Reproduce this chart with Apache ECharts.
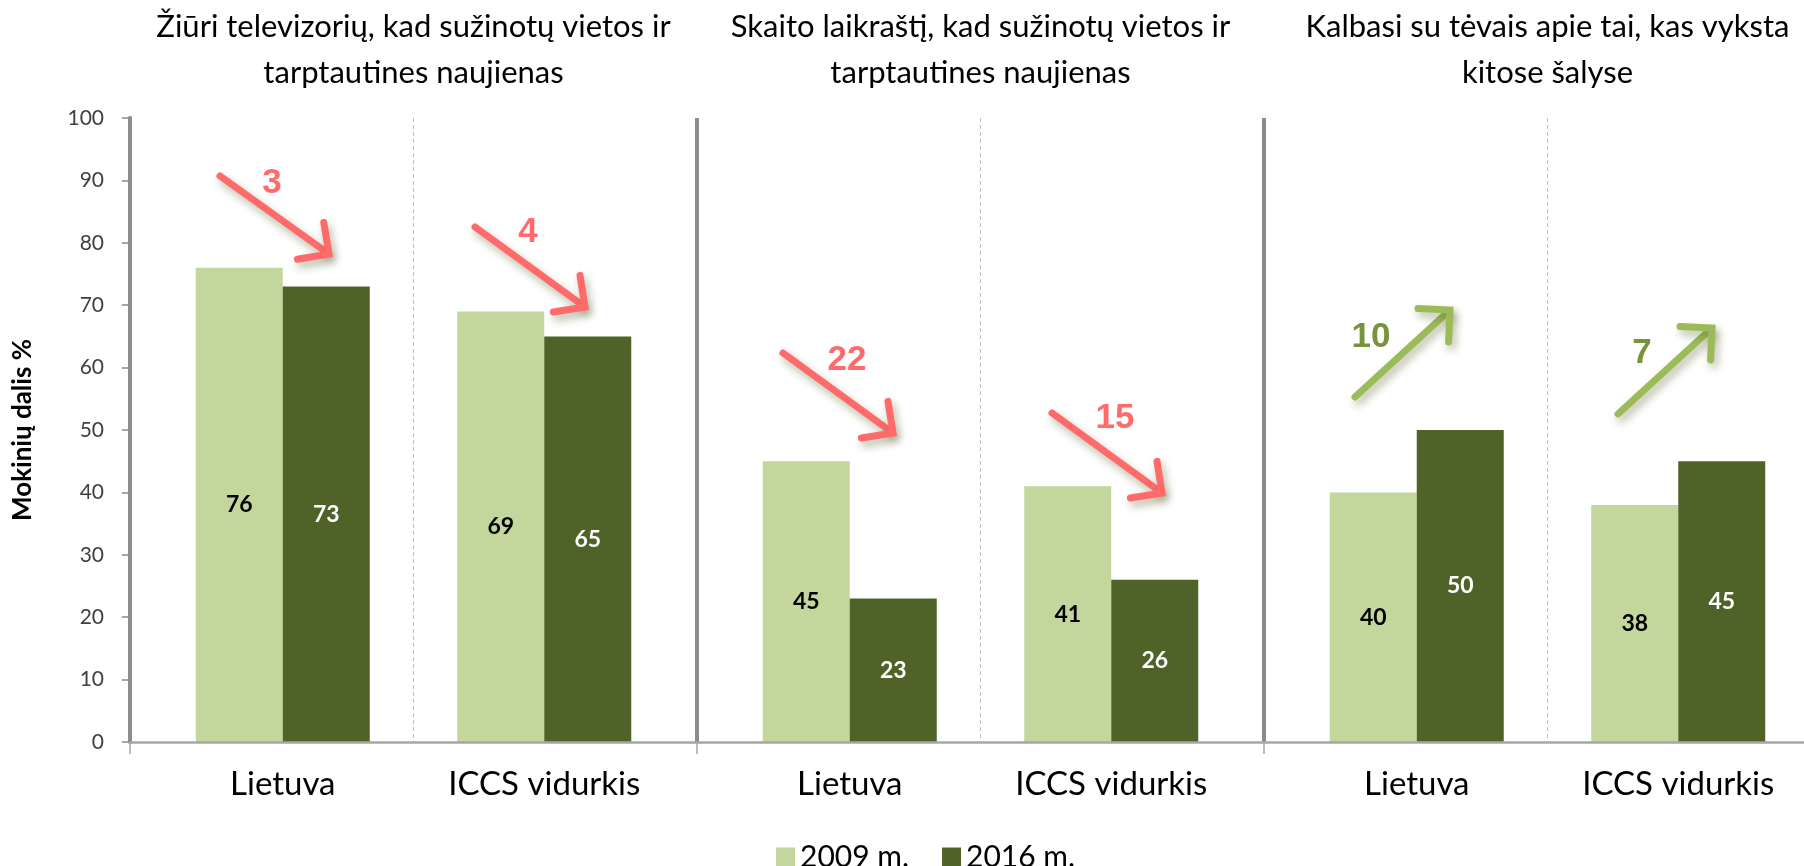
<!DOCTYPE html>
<html>
<head>
<meta charset="utf-8">
<script src="https://cdn.jsdelivr.net/npm/echarts@6/dist/echarts.min.js"></script>
<style>
  html, body { margin: 0; padding: 0; background: #fff; }
  #chart { width: 1804px; height: 866px; }
</style>
</head>
<body>
<div id="chart"></div>
<script>
// duomenys
const groupTitles = [
  'Žiūri televizorių, kad sužinotų vietos ir\ntarptautines naujienas',
  'Skaito laikraštį, kad sužinotų vietos ir\ntarptautines naujienas',
  'Kalbasi su tėvais apie tai, kas vyksta\nkitose šalyse'
];
const categories = ['Lietuva', 'ICCS vidurkis'];
const seriesNames = ['2009 m.', '2016 m.'];
const values2009 = [[76, 69], [45, 41], [40, 38]];
const values2016 = [[73, 65], [23, 26], [50, 45]];
const yMin = 0, yMax = 100, yStep = 10;

const colors = ['#C3D69B', '#4F6228'];
const font = 'Lato, "Open Sans", sans-serif';

// išdėstymas (px); trečia grupė nukerpama dešiniame krašte
const plotLeft = 130, plotTop = 118, plotHeight = 624;
const groupW = 567, inset = 22;

// rodyklių vietos: pradžia, smaigalys, skaičiaus centras
const arrowLayout = [
  [{ x0: 220, y0: 176, x1: 329, y1: 254, tx: 272, ty: 183 }, { x0: 475, y0: 227, x1: 585, y1: 307, tx: 528, ty: 232 }],
  [{ x0: 783, y0: 353, x1: 893, y1: 433, tx: 847, ty: 360 }, { x0: 1052, y0: 413, x1: 1162, y1: 493, tx: 1115, ty: 418 }],
  [{ x0: 1355, y0: 397, x1: 1450, y1: 310, tx: 1371, ty: 337 }, { x0: 1618, y0: 414, x1: 1712, y1: 328, tx: 1642, ty: 353 }]
];

function makeArrow(a, label, up) {
  const color = up ? '#9BBB59' : '#FF6B6B';
  const textColor = up ? '#77933C' : '#FF6B6B';
  const ang = Math.atan2(a.y1 - a.y0, a.x1 - a.x0);
  const len = 32, spread = Math.PI * 0.25;
  const p1 = [a.x1 - len * Math.cos(ang - spread), a.y1 - len * Math.sin(ang - spread)];
  const p2 = [a.x1 - len * Math.cos(ang + spread), a.y1 - len * Math.sin(ang + spread)];
  const shadow = { shadowBlur: 8, shadowColor: 'rgba(70,80,20,0.4)', shadowOffsetX: 3, shadowOffsetY: 5 };
  return [
    {
      type: 'line', z: 10,
      shape: { x1: a.x0, y1: a.y0, x2: a.x1 - 3 * Math.cos(ang), y2: a.y1 - 3 * Math.sin(ang) },
      style: Object.assign({ stroke: color, lineWidth: 7, lineCap: 'round' }, shadow)
    },
    {
      type: 'polyline', z: 10,
      shape: { points: [p1, [a.x1, a.y1], p2] },
      style: Object.assign({ stroke: color, fill: 'none', lineWidth: 7, lineCap: 'round', lineJoin: 'miter' }, shadow)
    },
    {
      type: 'text', z: 11, x: a.tx, y: a.ty,
      style: {
        text: label, fill: textColor, font: 'bold 35px "Liberation Sans", Arial, sans-serif',
        align: 'center', verticalAlign: 'middle'
      }
    }
  ];
}

const chart = echarts.init(document.getElementById('chart'));

const grids = [{ left: plotLeft, top: plotTop, width: groupW * 3, height: plotHeight, outerBoundsMode: 'none' }];
const xAxes = [
  {
    // grupių ribos, storos skiriamosios linijos
    gridIndex: 0, type: 'category', position: 'bottom', data: groupTitles, z: 3,
    axisLine: { lineStyle: { color: '#A6A6A6', width: 2.5 } },
    axisTick: { show: true, length: 12, interval: 0, lineStyle: { color: '#A6A6A6', width: 1.5 } },
    axisLabel: { show: false },
    splitLine: { show: true, interval: 0, lineStyle: { color: '#8C8C8C', width: 4 } }
  },
  {
    // grupių pavadinimai viršuje
    gridIndex: 0, type: 'category', position: 'top', data: groupTitles,
    axisLine: { show: false }, axisTick: { show: false },
    axisLabel: { interval: 0, margin: 22, color: '#000', fontFamily: font, fontSize: 31, lineHeight: 46 }
  },
  {
    // punktyrinės linijos tarp kategorijų
    gridIndex: 0, type: 'category', position: 'bottom', z: 1,
    data: groupTitles.flatMap(t => categories.map(c => t + c)),
    axisLine: { show: false }, axisTick: { show: false }, axisLabel: { show: false },
    splitLine: { show: true, interval: 0, lineStyle: { color: '#BFBFBF', width: 1, type: [4, 3] } }
  }
];
const yAxes = [
  {
    gridIndex: 0, type: 'value', min: yMin, max: yMax, interval: yStep,
    name: 'Mokinių dalis %', nameLocation: 'middle', nameGap: 94,
    nameTextStyle: { color: '#000', fontWeight: 'bold', fontSize: 26, fontFamily: font },
    axisLine: { show: true, lineStyle: { color: '#868686', width: 4 } },
    axisTick: { show: true, length: 8, lineStyle: { color: '#868686', width: 1.5 } },
    axisLabel: { margin: 26, color: '#404040', fontSize: 21, fontFamily: font },
    splitLine: { show: false }
  }
];
const series = [];
const graphics = [];

groupTitles.forEach((title, g) => {
  grids.push({
    left: plotLeft + g * groupW + inset, top: plotTop, width: groupW - 2 * inset, height: plotHeight,
    outerBoundsMode: 'none'
  });
  xAxes.push({
    gridIndex: g + 1, type: 'category', data: categories,
    axisLine: { show: false }, axisTick: { show: false },
    axisLabel: { margin: 26, color: '#000', fontSize: 33, fontFamily: font }
  });
  yAxes.push({ gridIndex: g + 1, type: 'value', min: yMin, max: yMax, show: false });

  [values2009[g], values2016[g]].forEach((data, s) => {
    series.push({
      name: seriesNames[s], type: 'bar', xAxisIndex: g + 3, yAxisIndex: g + 1,
      data: data, barWidth: 87, barGap: '0%',
      itemStyle: { color: colors[s] },
      label: {
        show: true, position: 'inside', color: s === 0 ? '#000' : '#fff',
        fontWeight: 'bold', fontSize: 23, fontFamily: font
      }
    });
  });

  categories.forEach((c, i) => {
    const diff = values2016[g][i] - values2009[g][i];
    graphics.push(...makeArrow(arrowLayout[g][i], String(Math.abs(diff)), diff > 0));
  });
});

chart.setOption({
  animation: false,
  backgroundColor: '#fff',
  color: colors,
  legend: {
    data: seriesNames, left: 771, top: 837, icon: 'rect',
    itemWidth: 19, itemHeight: 19, itemGap: 33,
    textStyle: { color: '#000', fontSize: 30, fontFamily: font }
  },
  grid: grids,
  xAxis: xAxes,
  yAxis: yAxes,
  series: series,
  graphic: graphics
});
</script>
</body>
</html>
